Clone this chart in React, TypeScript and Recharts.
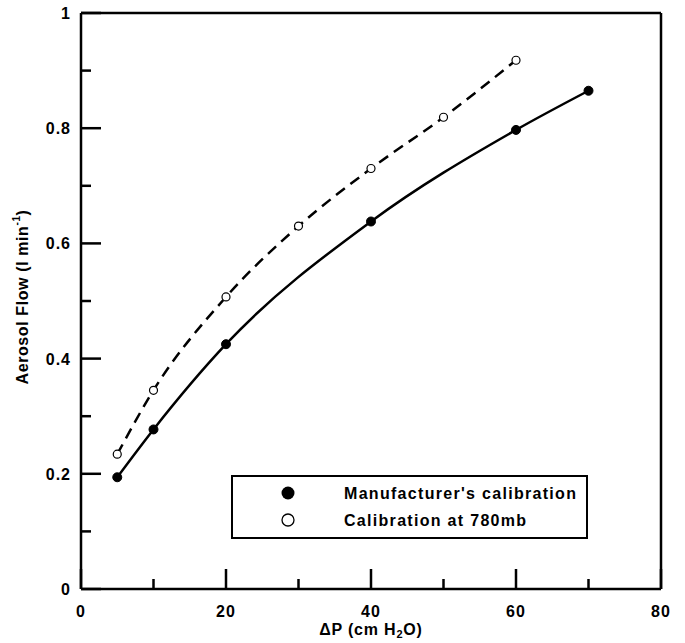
import { ComposedChart, Line, XAxis, YAxis, Label } from 'recharts';

const dpMfr = [5, 10, 20, 40, 60, 70];
const flowMfr = [0.194, 0.277, 0.425, 0.638, 0.797, 0.865];
const dp780 = [5, 10, 20, 30, 40, 50, 60];
const flow780 = [0.234, 0.345, 0.507, 0.63, 0.73, 0.819, 0.918];

const xTicks = [0, 10, 20, 30, 40, 50, 60, 70, 80];
const yTicks = [0, 0.1, 0.2, 0.3, 0.4, 0.5, 0.6, 0.7, 0.8, 0.9, 1];

const seriesNames = ["Manufacturer's calibration", 'Calibration at 780mb'];

const mfrData = dpMfr.map((x, i) => ({ x, y: flowMfr[i] }));
const cal780Data = dp780.map((x, i) => ({ x, y: flow780[i] }));

const FONT = '"Liberation Sans", Arial, sans-serif';

const isMajorX = (v: number) => v % 20 === 0;
const isMajorY = (v: number) => Math.round(v * 10) % 2 === 0;

function BottomTick({ x, y, payload }: any) {
  const v = payload.value;
  const len = isMajorX(v) ? 20 : 10;
  return (
    <g>
      <line x1={x} y1={y} x2={x} y2={y - len} stroke="#000" strokeWidth={2.5} />
      {isMajorX(v) && (
        <text x={x} y={y + 28} textAnchor="middle" fontFamily={FONT} fontWeight="bold" fontSize={16} letterSpacing={1} fill="#000">
          {v}
        </text>
      )}
    </g>
  );
}

function TopTick({ x, y, payload }: any) {
  const len = isMajorX(payload.value) ? 20 : 10;
  return <line x1={x} y1={y} x2={x} y2={y + len} stroke="#000" strokeWidth={2.5} />;
}

function LeftTick({ x, y, payload }: any) {
  const v = payload.value;
  const major = isMajorY(v);
  return (
    <g>
      <line x1={x} y1={y} x2={x + (major ? 20 : 10)} y2={y} stroke="#000" strokeWidth={2.5} />
      {major && (
        <text x={x - 10} y={y + 6} textAnchor="end" fontFamily={FONT} fontWeight="bold" fontSize={16} letterSpacing={1} fill="#000">
          {Number(v.toFixed(1))}
        </text>
      )}
    </g>
  );
}

function RightTick({ x, y, payload }: any) {
  const len = isMajorY(payload.value) ? 20 : 10;
  return <line x1={x} y1={y} x2={x - len} y2={y} stroke="#000" strokeWidth={2.5} />;
}

function LegendBox() {
  const txt = { fontFamily: FONT, fontWeight: 'bold' as const, fontSize: 16, letterSpacing: 1.3, fill: '#000' };
  return (
    <svg width={357} height={64} style={{ display: 'block' }}>
      <rect x={1} y={1} width={355} height={62} fill="#fff" stroke="#000" strokeWidth={2} />
      <circle cx={57} cy={18} r={6.5} fill="#000" />
      <text x={113} y={24} {...txt}>{seriesNames[0]}</text>
      <circle cx={57} cy={45} r={6} fill="#fff" stroke="#000" strokeWidth={1.3} />
      <text x={113} y={51} {...txt}>{seriesNames[1]}</text>
    </svg>
  );
}

export default function App() {
  return (
    <div style={{ position: 'absolute', left: 0, top: 0, width: 685, height: 643, background: '#fff' }}>
      <ComposedChart width={685} height={643} margin={{ top: 0, right: 0, bottom: 0, left: 0 }}>
        <XAxis
          xAxisId="b"
          dataKey="x"
          type="number"
          domain={[0, 80]}
          ticks={xTicks}
          interval={0}
          height={54}
          tickSize={0}
          tickMargin={0}
          tickLine={false}
          axisLine={{ stroke: '#000', strokeWidth: 2.5 }}
          tick={<BottomTick />}
        >
          <Label
            content={({ viewBox }: any) => (
              <text
                x={viewBox.x + viewBox.width / 2}
                y={viewBox.y + 46}
                textAnchor="middle"
                fontFamily={FONT}
                fontWeight="bold"
                fontSize={16}
                letterSpacing={0.8}
                fill="#000"
              >
                ΔP (cm H<tspan dy={3} fontSize={11}>2</tspan><tspan dy={-3}>O)</tspan>
              </text>
            )}
          />
        </XAxis>
        <XAxis
          xAxisId="t"
          orientation="top"
          dataKey="x"
          type="number"
          domain={[0, 80]}
          ticks={xTicks}
          interval={0}
          height={13}
          tickSize={0}
          tickMargin={0}
          tickLine={false}
          axisLine={{ stroke: '#000', strokeWidth: 2.5 }}
          tick={<TopTick />}
        />
        <YAxis
          yAxisId="l"
          type="number"
          domain={[0, 1]}
          ticks={yTicks}
          interval={0}
          width={81}
          tickSize={0}
          tickMargin={0}
          tickLine={false}
          axisLine={{ stroke: '#000', strokeWidth: 2.5 }}
          tick={<LeftTick />}
        >
          <Label
            content={({ viewBox }: any) => {
              const cx = 22;
              const cy = viewBox.y + viewBox.height / 2 - 4;
              return (
                <text
                  x={cx}
                  y={cy}
                  transform={`rotate(-90, ${cx}, ${cy})`}
                  textAnchor="middle"
                  dominantBaseline="central"
                  fontFamily={FONT}
                  fontWeight="bold"
                  fontSize={16}
                  letterSpacing={0.6}
                  fill="#000"
                >
                  Aerosol Flow (l min<tspan dy={-6} fontSize={10}>-1</tspan><tspan dy={6}>)</tspan>
                </text>
              );
            }}
          />
        </YAxis>
        <YAxis
          yAxisId="r"
          orientation="right"
          type="number"
          domain={[0, 1]}
          ticks={yTicks}
          interval={0}
          width={24}
          tickSize={0}
          tickMargin={0}
          tickLine={false}
          axisLine={{ stroke: '#000', strokeWidth: 2.5 }}
          tick={<RightTick />}
        />
        <Line
          xAxisId="b"
          yAxisId="l"
          data={mfrData}
          dataKey="y"
          name={seriesNames[0]}
          type="monotone"
          stroke="#000"
          strokeWidth={2.5}
          dot={{ r: 4.5, fill: '#000', stroke: '#000', strokeWidth: 1 }}
          isAnimationActive={false}
        />
        <Line
          xAxisId="b"
          yAxisId="l"
          data={cal780Data}
          dataKey="y"
          name={seriesNames[1]}
          type="monotone"
          stroke="#000"
          strokeWidth={2.5}
          strokeDasharray="11 7"
          dot={{ r: 4, fill: '#fff', stroke: '#000', strokeWidth: 1.2, strokeDasharray: '0' }}
          isAnimationActive={false}
        />
      </ComposedChart>
      <div style={{ position: 'absolute', left: 231, top: 475 }}>
        <LegendBox />
      </div>
    </div>
  );
}
